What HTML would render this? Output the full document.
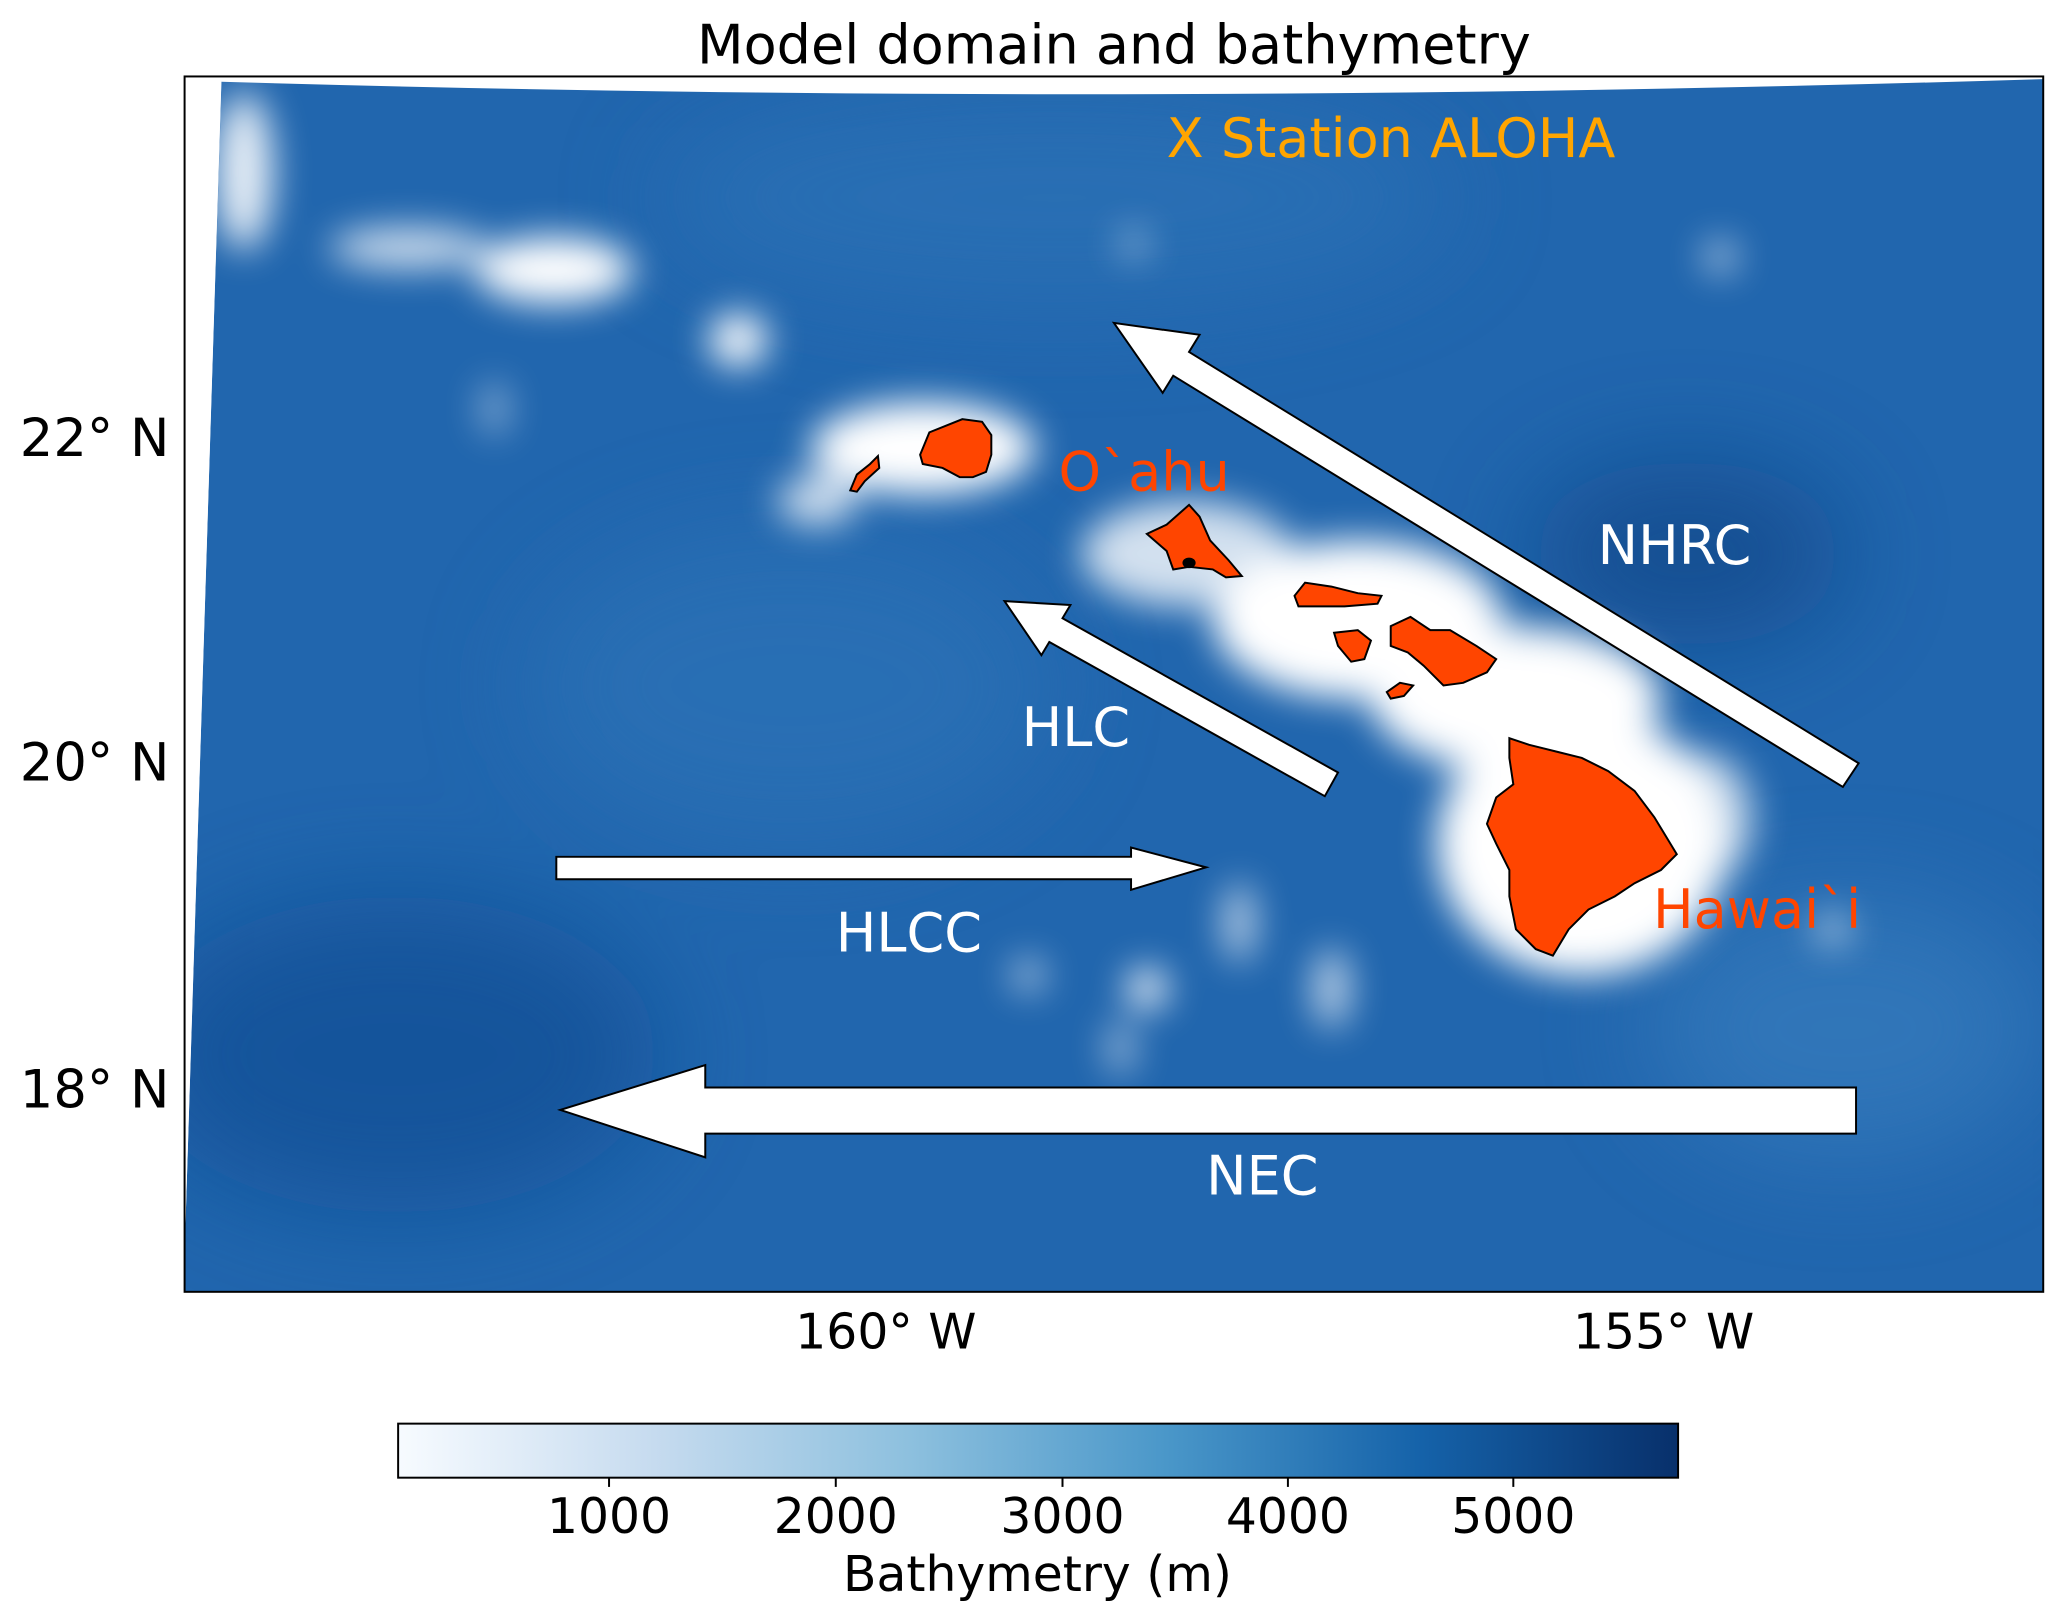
<!DOCTYPE html>
<html><head><meta charset="utf-8"><style>
html,body{margin:0;padding:0;background:#fff;}
svg{display:block;}
text{font-family:"DejaVu Sans","Liberation Sans",sans-serif;}
</style></head><body>
<svg width="2067" height="1624" viewBox="0 0 1568 1232" xmlns="http://www.w3.org/2000/svg">
<defs>
<filter id="b" x="-50%" y="-50%" width="200%" height="200%"><feGaussianBlur stdDeviation="14"/></filter>
<filter id="b2" x="-50%" y="-50%" width="200%" height="200%"><feGaussianBlur stdDeviation="40"/></filter>
<linearGradient id="cb" x1="0" x2="1" y1="0" y2="0">
<stop offset="0" stop-color="#f7fbff"/><stop offset="0.2" stop-color="#c6dbef"/>
<stop offset="0.4" stop-color="#8dc0de"/><stop offset="0.6" stop-color="#4a97c9"/>
<stop offset="0.8" stop-color="#1562a9"/><stop offset="1" stop-color="#08306b"/>
</linearGradient>
<clipPath id="mc"><path d="M168 60 Q845 80 1550 58 L1550 980 L140 980 L140 950 Z"/></clipPath>
</defs>
<text x="845" y="48" font-size="41" text-anchor="middle">Model domain and bathymetry</text>
<g clip-path="url(#mc)">
<rect x="140" y="58" width="1410" height="922" fill="#2166ae"/>
<g filter="url(#b2)" opacity="0.6">
<ellipse cx="1280" cy="420" rx="120" ry="70" fill="#0c3f80"/>
<ellipse cx="300" cy="800" rx="200" ry="120" fill="#104a8f"/>
<ellipse cx="1400" cy="780" rx="150" ry="100" fill="#3a80c0"/>
<ellipse cx="800" cy="150" rx="300" ry="80" fill="#2e75b8"/>
<ellipse cx="600" cy="520" rx="200" ry="120" fill="#2e75b8"/>
</g>
<g filter="url(#b)" fill="#fff">
<ellipse cx="185" cy="130" rx="22" ry="60" opacity="0.9"/>
<ellipse cx="310" cy="188" rx="60" ry="15" opacity="0.8"/>
<ellipse cx="420" cy="205" rx="60" ry="25"/>
<ellipse cx="560" cy="258" rx="22" ry="20"/>
<ellipse cx="700" cy="340" rx="85" ry="35"/>
<ellipse cx="620" cy="380" rx="30" ry="18" opacity="0.8"/>
<ellipse cx="900" cy="420" rx="80" ry="40" opacity="0.8"/>
<ellipse cx="1030" cy="470" rx="110" ry="60"/>
<ellipse cx="1150" cy="530" rx="110" ry="55"/>
<ellipse cx="1200" cy="640" rx="110" ry="100"/>
<ellipse cx="1290" cy="620" rx="40" ry="50" opacity="0.7"/>
<ellipse cx="870" cy="750" rx="15" ry="15"/>
<ellipse cx="940" cy="700" rx="12" ry="30" opacity="0.7"/>
<ellipse cx="1010" cy="750" rx="14" ry="30" opacity="0.7"/>
<ellipse cx="780" cy="740" rx="12" ry="12" opacity="0.7"/>
<ellipse cx="850" cy="795" rx="10" ry="20" opacity="0.6"/>
<ellipse cx="1305" cy="195" rx="12" ry="12" opacity="0.7"/>
<ellipse cx="860" cy="185" rx="10" ry="10" opacity="0.6"/>
<ellipse cx="375" cy="310" rx="10" ry="20" opacity="0.5"/>
<ellipse cx="1390" cy="705" rx="14" ry="12" opacity="0.6"/>
</g>
</g>
<path d="M140 58 L168 58 L140 950 Z" fill="#fff"/>
<path d="M168 60 Q845 80 1550 58" fill="none" stroke="#fff" stroke-width="4"/>
<rect x="140" y="58" width="1410" height="922" fill="none" stroke="#000" stroke-width="1.5"/>
<g fill="#fff" stroke="#000" stroke-width="1.5">
<path d="M1410 579 L902 267 L910 254 L845 245 L882 298 L890 285 L1398 597 Z"/>
<path d="M1015 586 L806 469 L812 459 L762 456 L790 497 L796 487 L1005 604 Z"/>
<path d="M422 650 L858 650 L858 643 L915 658 L858 675 L858 667 L422 667 Z"/>
<path d="M1408 825 L535 825 L535 808 L425 842 L535 878 L535 860 L1408 860 Z"/>
</g>
<g fill="#ff4500" stroke="#000" stroke-width="1.5">
<path d="M698 345 L705 328 L720 322 L730 318 L745 320 L752 330 L752 345 L748 358 L738 362 L728 362 L715 355 L700 352 Z"/>
<path d="M645 372 L650 360 L660 352 L666 346 L667 355 L656 365 L650 373 Z"/>
<path d="M870 405 L885 398 L902 383 L910 392 L918 410 L932 425 L942 437 L930 438 L920 432 L902 430 L890 432 L885 418 Z"/>
<path d="M982 452 L990 442 L1010 445 L1030 450 L1048 452 L1045 458 L1020 460 L1000 460 L985 460 Z"/>
<path d="M1012 480 L1030 478 L1040 486 L1035 500 L1025 502 L1015 490 Z"/>
<path d="M1055 475 L1070 468 L1085 478 L1100 478 L1120 490 L1135 500 L1128 510 L1110 518 L1095 520 L1080 505 L1068 495 L1055 490 Z"/>
<path d="M1052 525 L1062 518 L1072 520 L1065 528 L1055 530 Z"/>
<path d="M1145 560 L1160 565 L1180 570 L1200 575 L1220 585 L1240 600 L1255 620 L1272 648 L1260 660 L1240 670 L1225 680 L1205 690 L1190 705 L1178 725 L1165 720 L1150 705 L1145 680 L1145 660 L1135 640 L1128 625 L1135 605 L1148 595 L1145 575 Z"/>
</g>
<ellipse cx="902" cy="427" rx="5" ry="4" fill="#000"/>
<text x="885" y="119" font-size="41" fill="#ffa500">X Station ALOHA</text>
<text x="803" y="372" font-size="41" fill="#ff4500">O`ahu</text>
<text x="1254" y="704" font-size="41" fill="#ff4500">Hawai`i</text>
<g font-size="41" fill="#fff">
<text x="1212" y="428">NHRC</text>
<text x="775" y="566">HLC</text>
<text x="634" y="722">HLCC</text>
<text x="915" y="906">NEC</text>
</g>
<g font-size="40" fill="#000">
<text x="15" y="346">22° N</text>
<text x="15" y="592">20° N</text>
<text x="15" y="840">18° N</text>
</g>
<g font-size="37" fill="#000">
<text x="672" y="1023" text-anchor="middle">160° W</text>
<text x="1262" y="1023" text-anchor="middle">155° W</text>
</g>
<rect x="302" y="1080" width="971" height="41" fill="url(#cb)" stroke="#000" stroke-width="1.5"/>
<g stroke="#000" stroke-width="1.5">
<line x1="462" y1="1121" x2="462" y2="1128"/><line x1="634" y1="1121" x2="634" y2="1128"/>
<line x1="806" y1="1121" x2="806" y2="1128"/><line x1="977" y1="1121" x2="977" y2="1128"/>
<line x1="1148" y1="1121" x2="1148" y2="1128"/>
</g>
<g font-size="37" text-anchor="middle">
<text x="462" y="1163">1000</text><text x="634" y="1163">2000</text>
<text x="806" y="1163">3000</text><text x="977" y="1163">4000</text>
<text x="1148" y="1163">5000</text>
<text x="787" y="1207">Bathymetry (m)</text>
</g>
</svg>
</body></html>
